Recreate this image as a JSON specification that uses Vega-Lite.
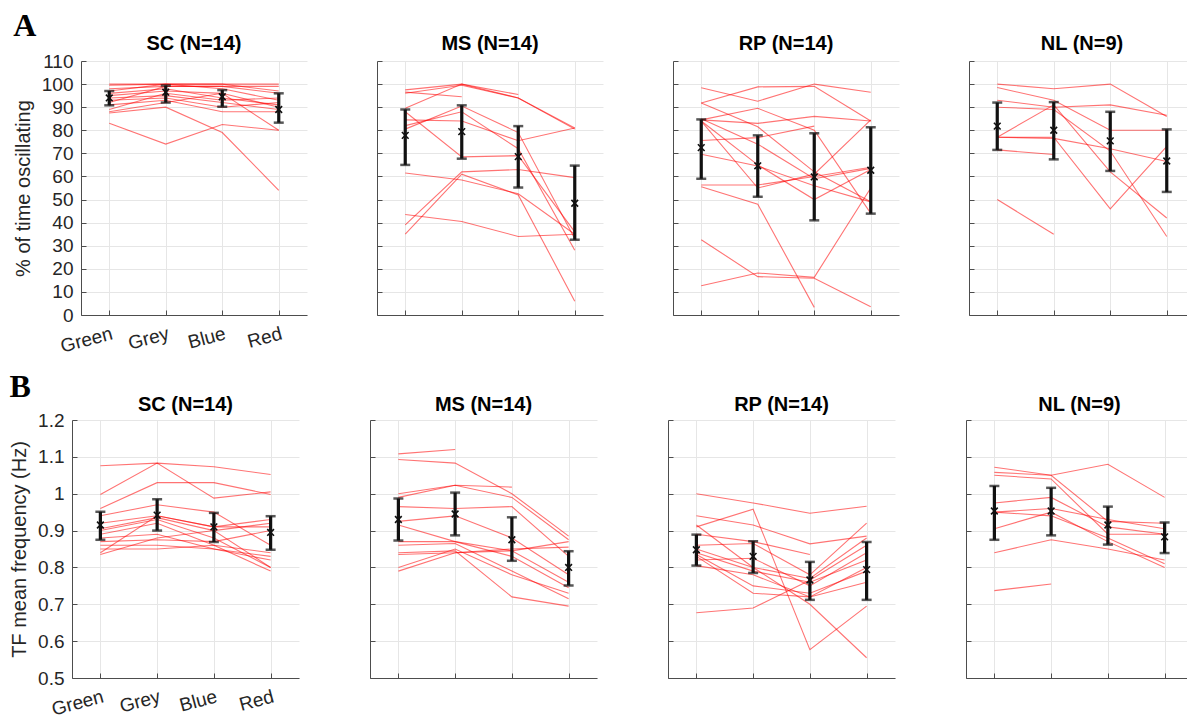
{
 "$schema": "https://vega.github.io/schema/vega-lite/v6.json",
 "background": "white",
 "padding": {"left": 9, "top": 9, "right": 0, "bottom": 0},
 "config": {
  "view": {"stroke": null},
  "font": "Liberation Sans",
  "title": {"fontSize": 20, "fontWeight": "bold", "font": "Liberation Sans", "color": "#000000", "offset": 7},
  "axis": {"gridColor": "#e6e6e6", "domainColor": "#4d4d4d", "tickColor": "#4d4d4d", "tickSize": -5, "labelColor": "#262626", "labelFont": "Liberation Sans", "labelFontSize": 19, "labelOverlap": false, "titleFont": "Liberation Sans", "titleFontSize": 20, "titleFontWeight": "normal", "titleColor": "#262626"},
  "axisY": {"labelPadding": 13, "titlePadding": 8},
  "axisX": {"labelPadding": 14}
 },
 "datasets": {
  "lines": [
   {"m":"A","g":"SC","s":1,"c":"Green","v":100},{"m":"A","g":"SC","s":1,"c":"Grey","v":100},{"m":"A","g":"SC","s":1,"c":"Blue","v":100},{"m":"A","g":"SC","s":1,"c":"Red","v":100},
   {"m":"A","g":"SC","s":2,"c":"Green","v":99.5},{"m":"A","g":"SC","s":2,"c":"Grey","v":100},{"m":"A","g":"SC","s":2,"c":"Blue","v":100},{"m":"A","g":"SC","s":2,"c":"Red","v":97},
   {"m":"A","g":"SC","s":3,"c":"Green","v":98},{"m":"A","g":"SC","s":3,"c":"Grey","v":99},{"m":"A","g":"SC","s":3,"c":"Blue","v":99},{"m":"A","g":"SC","s":3,"c":"Red","v":96},
   {"m":"A","g":"SC","s":4,"c":"Green","v":97},{"m":"A","g":"SC","s":4,"c":"Grey","v":100},{"m":"A","g":"SC","s":4,"c":"Blue","v":98},{"m":"A","g":"SC","s":4,"c":"Red","v":93},
   {"m":"A","g":"SC","s":5,"c":"Green","v":96},{"m":"A","g":"SC","s":5,"c":"Grey","v":98},{"m":"A","g":"SC","s":5,"c":"Blue","v":94},{"m":"A","g":"SC","s":5,"c":"Red","v":91},
   {"m":"A","g":"SC","s":6,"c":"Green","v":95},{"m":"A","g":"SC","s":6,"c":"Grey","v":97},{"m":"A","g":"SC","s":6,"c":"Blue","v":96},{"m":"A","g":"SC","s":6,"c":"Red","v":90},
   {"m":"A","g":"SC","s":7,"c":"Green","v":94},{"m":"A","g":"SC","s":7,"c":"Grey","v":95},{"m":"A","g":"SC","s":7,"c":"Blue","v":92},{"m":"A","g":"SC","s":7,"c":"Red","v":89},
   {"m":"A","g":"SC","s":8,"c":"Green","v":93},{"m":"A","g":"SC","s":8,"c":"Grey","v":94},{"m":"A","g":"SC","s":8,"c":"Blue","v":90},{"m":"A","g":"SC","s":8,"c":"Red","v":92},
   {"m":"A","g":"SC","s":9,"c":"Green","v":92},{"m":"A","g":"SC","s":9,"c":"Grey","v":99},{"m":"A","g":"SC","s":9,"c":"Blue","v":99},{"m":"A","g":"SC","s":9,"c":"Red","v":99},
   {"m":"A","g":"SC","s":10,"c":"Green","v":91},{"m":"A","g":"SC","s":10,"c":"Grey","v":93},{"m":"A","g":"SC","s":10,"c":"Blue","v":88},{"m":"A","g":"SC","s":10,"c":"Red","v":88},
   {"m":"A","g":"SC","s":11,"c":"Green","v":88},{"m":"A","g":"SC","s":11,"c":"Grey","v":92},{"m":"A","g":"SC","s":11,"c":"Blue","v":96},{"m":"A","g":"SC","s":11,"c":"Red","v":80},
   {"m":"A","g":"SC","s":12,"c":"Green","v":87.5},{"m":"A","g":"SC","s":12,"c":"Grey","v":90},{"m":"A","g":"SC","s":12,"c":"Blue","v":79},{"m":"A","g":"SC","s":12,"c":"Red","v":54},
   {"m":"A","g":"SC","s":13,"c":"Green","v":83},{"m":"A","g":"SC","s":13,"c":"Grey","v":74},{"m":"A","g":"SC","s":13,"c":"Blue","v":82.5},{"m":"A","g":"SC","s":13,"c":"Red","v":80},
   {"m":"A","g":"SC","s":14,"c":"Green","v":89},{"m":"A","g":"SC","s":14,"c":"Grey","v":96},{"m":"A","g":"SC","s":14,"c":"Blue","v":93},{"m":"A","g":"SC","s":14,"c":"Red","v":94},

   {"m":"A","g":"MS","s":1,"c":"Green","v":97.5},{"m":"A","g":"MS","s":1,"c":"Grey","v":100},{"m":"A","g":"MS","s":1,"c":"Blue","v":95.5},
   {"m":"A","g":"MS","s":2,"c":"Green","v":96.5},{"m":"A","g":"MS","s":2,"c":"Grey","v":94.5},
   {"m":"A","g":"MS","s":3,"c":"Green","v":89.5},{"m":"A","g":"MS","s":3,"c":"Grey","v":100},{"m":"A","g":"MS","s":3,"c":"Blue","v":94},{"m":"A","g":"MS","s":3,"c":"Red","v":81},
   {"m":"A","g":"MS","s":4,"c":"Green","v":88},{"m":"A","g":"MS","s":4,"c":"Grey","v":68.5},{"m":"A","g":"MS","s":4,"c":"Blue","v":69},{"m":"A","g":"MS","s":4,"c":"Red","v":36},
   {"m":"A","g":"MS","s":5,"c":"Green","v":84.5},{"m":"A","g":"MS","s":5,"c":"Grey","v":84},{"m":"A","g":"MS","s":5,"c":"Blue","v":75.5},{"m":"A","g":"MS","s":5,"c":"Red","v":81},
   {"m":"A","g":"MS","s":6,"c":"Green","v":80.5},{"m":"A","g":"MS","s":6,"c":"Grey","v":90.5},{"m":"A","g":"MS","s":6,"c":"Blue","v":79},{"m":"A","g":"MS","s":6,"c":"Red","v":33},
   {"m":"A","g":"MS","s":7,"c":"Green","v":82},{"m":"A","g":"MS","s":7,"c":"Grey","v":88},{"m":"A","g":"MS","s":7,"c":"Blue","v":72},{"m":"A","g":"MS","s":7,"c":"Red","v":28},
   {"m":"A","g":"MS","s":8,"c":"Green","v":61.5},{"m":"A","g":"MS","s":8,"c":"Grey","v":58.5},{"m":"A","g":"MS","s":8,"c":"Blue","v":52.5},{"m":"A","g":"MS","s":8,"c":"Red","v":35},
   {"m":"A","g":"MS","s":9,"c":"Green","v":39},{"m":"A","g":"MS","s":9,"c":"Grey","v":62},{"m":"A","g":"MS","s":9,"c":"Blue","v":63},{"m":"A","g":"MS","s":9,"c":"Red","v":59.5},
   {"m":"A","g":"MS","s":10,"c":"Green","v":35},{"m":"A","g":"MS","s":10,"c":"Grey","v":61},{"m":"A","g":"MS","s":10,"c":"Blue","v":52},{"m":"A","g":"MS","s":10,"c":"Red","v":6},
   {"m":"A","g":"MS","s":11,"c":"Green","v":43.5},{"m":"A","g":"MS","s":11,"c":"Grey","v":40.5},{"m":"A","g":"MS","s":11,"c":"Blue","v":34},{"m":"A","g":"MS","s":11,"c":"Red","v":35},
   {"m":"A","g":"MS","s":12,"c":"Green","v":96},{"m":"A","g":"MS","s":12,"c":"Grey","v":99.5},{"m":"A","g":"MS","s":12,"c":"Blue","v":94},{"m":"A","g":"MS","s":12,"c":"Red","v":80.5},

   {"m":"A","g":"RP","s":1,"c":"Green","v":98.4},{"m":"A","g":"RP","s":1,"c":"Grey","v":92.6},{"m":"A","g":"RP","s":1,"c":"Blue","v":100},{"m":"A","g":"RP","s":1,"c":"Red","v":96.5},
   {"m":"A","g":"RP","s":2,"c":"Green","v":91.8},{"m":"A","g":"RP","s":2,"c":"Grey","v":98.8},{"m":"A","g":"RP","s":2,"c":"Blue","v":99},{"m":"A","g":"RP","s":2,"c":"Red","v":84},
   {"m":"A","g":"RP","s":3,"c":"Green","v":91.8},{"m":"A","g":"RP","s":3,"c":"Grey","v":81.5},{"m":"A","g":"RP","s":3,"c":"Blue","v":62},{"m":"A","g":"RP","s":3,"c":"Red","v":49},
   {"m":"A","g":"RP","s":4,"c":"Green","v":84.5},{"m":"A","g":"RP","s":4,"c":"Grey","v":89.5},{"m":"A","g":"RP","s":4,"c":"Blue","v":80},{"m":"A","g":"RP","s":4,"c":"Red","v":44},
   {"m":"A","g":"RP","s":5,"c":"Green","v":84.5},{"m":"A","g":"RP","s":5,"c":"Grey","v":83},{"m":"A","g":"RP","s":5,"c":"Blue","v":86},{"m":"A","g":"RP","s":5,"c":"Red","v":84},
   {"m":"A","g":"RP","s":6,"c":"Green","v":75.6},{"m":"A","g":"RP","s":6,"c":"Grey","v":76.8},{"m":"A","g":"RP","s":6,"c":"Blue","v":81.8},
   {"m":"A","g":"RP","s":7,"c":"Green","v":55.5},{"m":"A","g":"RP","s":7,"c":"Grey","v":48},{"m":"A","g":"RP","s":7,"c":"Blue","v":3.3},
   {"m":"A","g":"RP","s":8,"c":"Green","v":69.6},{"m":"A","g":"RP","s":8,"c":"Grey","v":64.5},{"m":"A","g":"RP","s":8,"c":"Blue","v":56},{"m":"A","g":"RP","s":8,"c":"Red","v":49},
   {"m":"A","g":"RP","s":9,"c":"Green","v":56.3},{"m":"A","g":"RP","s":9,"c":"Grey","v":56.3},{"m":"A","g":"RP","s":9,"c":"Blue","v":60},{"m":"A","g":"RP","s":9,"c":"Red","v":64},
   {"m":"A","g":"RP","s":10,"c":"Green","v":32.6},{"m":"A","g":"RP","s":10,"c":"Grey","v":16.6},{"m":"A","g":"RP","s":10,"c":"Blue","v":15.9},{"m":"A","g":"RP","s":10,"c":"Red","v":3.6},
   {"m":"A","g":"RP","s":11,"c":"Green","v":12.7},{"m":"A","g":"RP","s":11,"c":"Grey","v":18.2},{"m":"A","g":"RP","s":11,"c":"Blue","v":16.3},{"m":"A","g":"RP","s":11,"c":"Red","v":55},
   {"m":"A","g":"RP","s":12,"c":"Green","v":84},{"m":"A","g":"RP","s":12,"c":"Grey","v":55},{"m":"A","g":"RP","s":12,"c":"Blue","v":61},{"m":"A","g":"RP","s":12,"c":"Red","v":84.5},
   {"m":"A","g":"RP","s":13,"c":"Green","v":84},{"m":"A","g":"RP","s":13,"c":"Grey","v":65},{"m":"A","g":"RP","s":13,"c":"Blue","v":50},{"m":"A","g":"RP","s":13,"c":"Red","v":63},
   {"m":"A","g":"RP","s":14,"c":"Green","v":85},{"m":"A","g":"RP","s":14,"c":"Grey","v":74},{"m":"A","g":"RP","s":14,"c":"Blue","v":59},{"m":"A","g":"RP","s":14,"c":"Red","v":63.5},

   {"m":"A","g":"NL","s":1,"c":"Green","v":100},{"m":"A","g":"NL","s":1,"c":"Grey","v":98},{"m":"A","g":"NL","s":1,"c":"Blue","v":100},{"m":"A","g":"NL","s":1,"c":"Red","v":86},
   {"m":"A","g":"NL","s":2,"c":"Green","v":98.5},{"m":"A","g":"NL","s":2,"c":"Grey","v":93},{"m":"A","g":"NL","s":2,"c":"Blue","v":80},{"m":"A","g":"NL","s":2,"c":"Red","v":80},
   {"m":"A","g":"NL","s":3,"c":"Green","v":93},{"m":"A","g":"NL","s":3,"c":"Grey","v":90},{"m":"A","g":"NL","s":3,"c":"Blue","v":91},{"m":"A","g":"NL","s":3,"c":"Red","v":86.5},
   {"m":"A","g":"NL","s":4,"c":"Green","v":90},{"m":"A","g":"NL","s":4,"c":"Grey","v":89},{"m":"A","g":"NL","s":4,"c":"Blue","v":71},{"m":"A","g":"NL","s":4,"c":"Red","v":34},
   {"m":"A","g":"NL","s":5,"c":"Green","v":77},{"m":"A","g":"NL","s":5,"c":"Grey","v":91},{"m":"A","g":"NL","s":5,"c":"Blue","v":62},{"m":"A","g":"NL","s":5,"c":"Red","v":42},
   {"m":"A","g":"NL","s":6,"c":"Green","v":77},{"m":"A","g":"NL","s":6,"c":"Grey","v":77},{"m":"A","g":"NL","s":6,"c":"Blue","v":46},{"m":"A","g":"NL","s":6,"c":"Red","v":73},
   {"m":"A","g":"NL","s":7,"c":"Green","v":77},{"m":"A","g":"NL","s":7,"c":"Grey","v":76.5},{"m":"A","g":"NL","s":7,"c":"Blue","v":72},{"m":"A","g":"NL","s":7,"c":"Red","v":66.5},
   {"m":"A","g":"NL","s":8,"c":"Green","v":71.5},{"m":"A","g":"NL","s":8,"c":"Grey","v":69.5},
   {"m":"A","g":"NL","s":9,"c":"Green","v":50},{"m":"A","g":"NL","s":9,"c":"Grey","v":35},

   {"m":"B","g":"SC","s":1,"c":"Green","v":1.076},{"m":"B","g":"SC","s":1,"c":"Grey","v":1.083},{"m":"B","g":"SC","s":1,"c":"Blue","v":1.073},{"m":"B","g":"SC","s":1,"c":"Red","v":1.052},
   {"m":"B","g":"SC","s":2,"c":"Green","v":0.998},{"m":"B","g":"SC","s":2,"c":"Grey","v":1.083},{"m":"B","g":"SC","s":2,"c":"Blue","v":0.988},{"m":"B","g":"SC","s":2,"c":"Red","v":1.005},
   {"m":"B","g":"SC","s":3,"c":"Green","v":0.96},{"m":"B","g":"SC","s":3,"c":"Grey","v":1.03},{"m":"B","g":"SC","s":3,"c":"Blue","v":1.03},{"m":"B","g":"SC","s":3,"c":"Red","v":0.998},
   {"m":"B","g":"SC","s":4,"c":"Green","v":0.94},{"m":"B","g":"SC","s":4,"c":"Grey","v":0.97},{"m":"B","g":"SC","s":4,"c":"Blue","v":0.95},{"m":"B","g":"SC","s":4,"c":"Red","v":0.86},
   {"m":"B","g":"SC","s":5,"c":"Green","v":0.92},{"m":"B","g":"SC","s":5,"c":"Grey","v":0.94},{"m":"B","g":"SC","s":5,"c":"Blue","v":0.91},{"m":"B","g":"SC","s":5,"c":"Red","v":0.93},
   {"m":"B","g":"SC","s":6,"c":"Green","v":0.905},{"m":"B","g":"SC","s":6,"c":"Grey","v":0.935},{"m":"B","g":"SC","s":6,"c":"Blue","v":0.9},{"m":"B","g":"SC","s":6,"c":"Red","v":0.92},
   {"m":"B","g":"SC","s":7,"c":"Green","v":0.9},{"m":"B","g":"SC","s":7,"c":"Grey","v":0.93},{"m":"B","g":"SC","s":7,"c":"Blue","v":0.88},{"m":"B","g":"SC","s":7,"c":"Red","v":0.8},
   {"m":"B","g":"SC","s":8,"c":"Green","v":0.89},{"m":"B","g":"SC","s":8,"c":"Grey","v":0.92},{"m":"B","g":"SC","s":8,"c":"Blue","v":0.86},{"m":"B","g":"SC","s":8,"c":"Red","v":0.79},
   {"m":"B","g":"SC","s":9,"c":"Green","v":0.88},{"m":"B","g":"SC","s":9,"c":"Grey","v":0.89},{"m":"B","g":"SC","s":9,"c":"Blue","v":0.85},{"m":"B","g":"SC","s":9,"c":"Red","v":0.82},
   {"m":"B","g":"SC","s":10,"c":"Green","v":0.87},{"m":"B","g":"SC","s":10,"c":"Grey","v":0.875},{"m":"B","g":"SC","s":10,"c":"Blue","v":0.87},{"m":"B","g":"SC","s":10,"c":"Red","v":0.9},
   {"m":"B","g":"SC","s":11,"c":"Green","v":0.86},{"m":"B","g":"SC","s":11,"c":"Grey","v":0.86},{"m":"B","g":"SC","s":11,"c":"Blue","v":0.85},{"m":"B","g":"SC","s":11,"c":"Red","v":0.83},
   {"m":"B","g":"SC","s":12,"c":"Green","v":0.85},{"m":"B","g":"SC","s":12,"c":"Grey","v":0.85},{"m":"B","g":"SC","s":12,"c":"Blue","v":0.86},{"m":"B","g":"SC","s":12,"c":"Red","v":0.84},
   {"m":"B","g":"SC","s":13,"c":"Green","v":0.84},{"m":"B","g":"SC","s":13,"c":"Grey","v":0.94},{"m":"B","g":"SC","s":13,"c":"Blue","v":0.91},{"m":"B","g":"SC","s":13,"c":"Red","v":0.91},
   {"m":"B","g":"SC","s":14,"c":"Green","v":0.835},{"m":"B","g":"SC","s":14,"c":"Grey","v":0.88},{"m":"B","g":"SC","s":14,"c":"Blue","v":0.9},{"m":"B","g":"SC","s":14,"c":"Red","v":0.8},

   {"m":"B","g":"MS","s":1,"c":"Green","v":1.108},{"m":"B","g":"MS","s":1,"c":"Grey","v":1.12},
   {"m":"B","g":"MS","s":2,"c":"Green","v":1.093},{"m":"B","g":"MS","s":2,"c":"Grey","v":1.083},{"m":"B","g":"MS","s":2,"c":"Blue","v":1.0},{"m":"B","g":"MS","s":2,"c":"Red","v":0.885},
   {"m":"B","g":"MS","s":3,"c":"Green","v":1.0},{"m":"B","g":"MS","s":3,"c":"Grey","v":1.023},{"m":"B","g":"MS","s":3,"c":"Blue","v":1.018},
   {"m":"B","g":"MS","s":4,"c":"Green","v":0.99},{"m":"B","g":"MS","s":4,"c":"Grey","v":1.023},{"m":"B","g":"MS","s":4,"c":"Blue","v":0.99},{"m":"B","g":"MS","s":4,"c":"Red","v":0.875},
   {"m":"B","g":"MS","s":5,"c":"Green","v":0.965},{"m":"B","g":"MS","s":5,"c":"Grey","v":0.96},{"m":"B","g":"MS","s":5,"c":"Blue","v":0.965},{"m":"B","g":"MS","s":5,"c":"Red","v":0.83},
   {"m":"B","g":"MS","s":6,"c":"Green","v":0.925},{"m":"B","g":"MS","s":6,"c":"Grey","v":0.94},{"m":"B","g":"MS","s":6,"c":"Blue","v":0.88},{"m":"B","g":"MS","s":6,"c":"Red","v":0.78},
   {"m":"B","g":"MS","s":7,"c":"Green","v":0.915},{"m":"B","g":"MS","s":7,"c":"Grey","v":0.87},{"m":"B","g":"MS","s":7,"c":"Blue","v":0.83},{"m":"B","g":"MS","s":7,"c":"Red","v":0.745},
   {"m":"B","g":"MS","s":8,"c":"Green","v":0.87},{"m":"B","g":"MS","s":8,"c":"Grey","v":0.87},{"m":"B","g":"MS","s":8,"c":"Blue","v":0.845},{"m":"B","g":"MS","s":8,"c":"Red","v":0.87},
   {"m":"B","g":"MS","s":9,"c":"Green","v":0.86},{"m":"B","g":"MS","s":9,"c":"Grey","v":0.865},{"m":"B","g":"MS","s":9,"c":"Blue","v":0.79},{"m":"B","g":"MS","s":9,"c":"Red","v":0.715},
   {"m":"B","g":"MS","s":10,"c":"Green","v":0.84},{"m":"B","g":"MS","s":10,"c":"Grey","v":0.845},{"m":"B","g":"MS","s":10,"c":"Blue","v":0.72},{"m":"B","g":"MS","s":10,"c":"Red","v":0.695},
   {"m":"B","g":"MS","s":11,"c":"Green","v":0.835},{"m":"B","g":"MS","s":11,"c":"Grey","v":0.84},{"m":"B","g":"MS","s":11,"c":"Blue","v":0.85},{"m":"B","g":"MS","s":11,"c":"Red","v":0.855},
   {"m":"B","g":"MS","s":12,"c":"Green","v":0.8},{"m":"B","g":"MS","s":12,"c":"Grey","v":0.85},{"m":"B","g":"MS","s":12,"c":"Blue","v":0.78},{"m":"B","g":"MS","s":12,"c":"Red","v":0.73},
   {"m":"B","g":"MS","s":13,"c":"Green","v":0.79},{"m":"B","g":"MS","s":13,"c":"Grey","v":0.84},{"m":"B","g":"MS","s":13,"c":"Blue","v":0.845},{"m":"B","g":"MS","s":13,"c":"Red","v":0.76},

   {"m":"B","g":"RP","s":1,"c":"Green","v":1.0},{"m":"B","g":"RP","s":1,"c":"Grey","v":0.975},{"m":"B","g":"RP","s":1,"c":"Blue","v":0.947},{"m":"B","g":"RP","s":1,"c":"Red","v":0.966},
   {"m":"B","g":"RP","s":2,"c":"Green","v":0.94},{"m":"B","g":"RP","s":2,"c":"Grey","v":0.915},{"m":"B","g":"RP","s":2,"c":"Blue","v":0.864},{"m":"B","g":"RP","s":2,"c":"Red","v":0.885},
   {"m":"B","g":"RP","s":3,"c":"Green","v":0.91},{"m":"B","g":"RP","s":3,"c":"Grey","v":0.958},{"m":"B","g":"RP","s":3,"c":"Blue","v":0.577},{"m":"B","g":"RP","s":3,"c":"Red","v":0.695},
   {"m":"B","g":"RP","s":4,"c":"Green","v":0.915},{"m":"B","g":"RP","s":4,"c":"Grey","v":0.8},{"m":"B","g":"RP","s":4,"c":"Blue","v":0.7},{"m":"B","g":"RP","s":4,"c":"Red","v":0.555},
   {"m":"B","g":"RP","s":5,"c":"Green","v":0.677},{"m":"B","g":"RP","s":5,"c":"Grey","v":0.69},{"m":"B","g":"RP","s":5,"c":"Blue","v":0.765},{"m":"B","g":"RP","s":5,"c":"Red","v":0.86},
   {"m":"B","g":"RP","s":6,"c":"Green","v":0.89},{"m":"B","g":"RP","s":6,"c":"Grey","v":0.87},{"m":"B","g":"RP","s":6,"c":"Blue","v":0.835},
   {"m":"B","g":"RP","s":7,"c":"Green","v":0.86},{"m":"B","g":"RP","s":7,"c":"Grey","v":0.865},{"m":"B","g":"RP","s":7,"c":"Blue","v":0.78},{"m":"B","g":"RP","s":7,"c":"Red","v":0.92},
   {"m":"B","g":"RP","s":8,"c":"Green","v":0.85},{"m":"B","g":"RP","s":8,"c":"Grey","v":0.8},{"m":"B","g":"RP","s":8,"c":"Blue","v":0.77},{"m":"B","g":"RP","s":8,"c":"Red","v":0.88},
   {"m":"B","g":"RP","s":9,"c":"Green","v":0.84},{"m":"B","g":"RP","s":9,"c":"Grey","v":0.79},{"m":"B","g":"RP","s":9,"c":"Blue","v":0.76},{"m":"B","g":"RP","s":9,"c":"Red","v":0.82},
   {"m":"B","g":"RP","s":10,"c":"Green","v":0.835},{"m":"B","g":"RP","s":10,"c":"Grey","v":0.75},{"m":"B","g":"RP","s":10,"c":"Blue","v":0.73},{"m":"B","g":"RP","s":10,"c":"Red","v":0.79},
   {"m":"B","g":"RP","s":11,"c":"Green","v":0.83},{"m":"B","g":"RP","s":11,"c":"Grey","v":0.73},{"m":"B","g":"RP","s":11,"c":"Blue","v":0.72},{"m":"B","g":"RP","s":11,"c":"Red","v":0.76},
   {"m":"B","g":"RP","s":12,"c":"Green","v":0.82},{"m":"B","g":"RP","s":12,"c":"Grey","v":0.825},{"m":"B","g":"RP","s":12,"c":"Blue","v":0.75},{"m":"B","g":"RP","s":12,"c":"Red","v":0.84},
   {"m":"B","g":"RP","s":13,"c":"Green","v":0.805},{"m":"B","g":"RP","s":13,"c":"Grey","v":0.78},{"m":"B","g":"RP","s":13,"c":"Blue","v":0.72},{"m":"B","g":"RP","s":13,"c":"Red","v":0.8},

   {"m":"B","g":"NL","s":1,"c":"Green","v":1.072},{"m":"B","g":"NL","s":1,"c":"Grey","v":1.05},{"m":"B","g":"NL","s":1,"c":"Blue","v":1.08},{"m":"B","g":"NL","s":1,"c":"Red","v":0.99},
   {"m":"B","g":"NL","s":2,"c":"Green","v":1.058},{"m":"B","g":"NL","s":2,"c":"Grey","v":1.05},{"m":"B","g":"NL","s":2,"c":"Blue","v":0.925},{"m":"B","g":"NL","s":2,"c":"Red","v":0.92},
   {"m":"B","g":"NL","s":3,"c":"Green","v":1.05},{"m":"B","g":"NL","s":3,"c":"Grey","v":1.04},{"m":"B","g":"NL","s":3,"c":"Blue","v":0.89},{"m":"B","g":"NL","s":3,"c":"Red","v":0.89},
   {"m":"B","g":"NL","s":4,"c":"Green","v":0.975},{"m":"B","g":"NL","s":4,"c":"Grey","v":0.99},{"m":"B","g":"NL","s":4,"c":"Blue","v":0.91},{"m":"B","g":"NL","s":4,"c":"Red","v":0.89},
   {"m":"B","g":"NL","s":5,"c":"Green","v":0.95},{"m":"B","g":"NL","s":5,"c":"Grey","v":0.96},{"m":"B","g":"NL","s":5,"c":"Blue","v":0.93},{"m":"B","g":"NL","s":5,"c":"Red","v":0.905},
   {"m":"B","g":"NL","s":6,"c":"Green","v":0.95},{"m":"B","g":"NL","s":6,"c":"Grey","v":0.94},{"m":"B","g":"NL","s":6,"c":"Blue","v":0.88},{"m":"B","g":"NL","s":6,"c":"Red","v":0.81},
   {"m":"B","g":"NL","s":7,"c":"Green","v":0.905},{"m":"B","g":"NL","s":7,"c":"Grey","v":0.95},{"m":"B","g":"NL","s":7,"c":"Blue","v":0.87},{"m":"B","g":"NL","s":7,"c":"Red","v":0.8},
   {"m":"B","g":"NL","s":8,"c":"Green","v":0.84},{"m":"B","g":"NL","s":8,"c":"Grey","v":0.875},{"m":"B","g":"NL","s":8,"c":"Blue","v":0.85},{"m":"B","g":"NL","s":8,"c":"Red","v":0.82},
   {"m":"B","g":"NL","s":9,"c":"Green","v":0.737},{"m":"B","g":"NL","s":9,"c":"Grey","v":0.755}
  ],
  "stats": [
   {"m":"A","g":"SC","c":"Green","mean":94,"lo":90.8,"hi":97},
   {"m":"A","g":"SC","c":"Grey","mean":96.5,"lo":92,"hi":99.4},
   {"m":"A","g":"SC","c":"Blue","mean":94.5,"lo":90.2,"hi":97.4},
   {"m":"A","g":"SC","c":"Red","mean":89,"lo":83.3,"hi":96},
   {"m":"A","g":"MS","c":"Green","mean":77.8,"lo":65,"hi":89},
   {"m":"A","g":"MS","c":"Grey","mean":79.4,"lo":67.7,"hi":90.8},
   {"m":"A","g":"MS","c":"Blue","mean":68.6,"lo":55.2,"hi":81.8},
   {"m":"A","g":"MS","c":"Red","mean":48.4,"lo":32.6,"hi":64.7},
   {"m":"A","g":"RP","c":"Green","mean":72.5,"lo":59,"hi":84.7},
   {"m":"A","g":"RP","c":"Grey","mean":64.6,"lo":51.2,"hi":77.8},
   {"m":"A","g":"RP","c":"Blue","mean":59.8,"lo":41,"hi":78.7},
   {"m":"A","g":"RP","c":"Red","mean":62.7,"lo":43.9,"hi":81.3},
   {"m":"A","g":"NL","c":"Green","mean":81.8,"lo":71.5,"hi":92},
   {"m":"A","g":"NL","c":"Grey","mean":80,"lo":67.4,"hi":92.2},
   {"m":"A","g":"NL","c":"Blue","mean":75.4,"lo":62.4,"hi":88},
   {"m":"A","g":"NL","c":"Red","mean":66.7,"lo":53.3,"hi":80.4},
   {"m":"B","g":"SC","c":"Green","mean":0.915,"lo":0.875,"hi":0.951},
   {"m":"B","g":"SC","c":"Grey","mean":0.942,"lo":0.9,"hi":0.985},
   {"m":"B","g":"SC","c":"Blue","mean":0.91,"lo":0.869,"hi":0.948},
   {"m":"B","g":"SC","c":"Red","mean":0.895,"lo":0.848,"hi":0.939},
   {"m":"B","g":"MS","c":"Green","mean":0.93,"lo":0.873,"hi":0.987},
   {"m":"B","g":"MS","c":"Grey","mean":0.945,"lo":0.887,"hi":1.003},
   {"m":"B","g":"MS","c":"Blue","mean":0.875,"lo":0.818,"hi":0.936},
   {"m":"B","g":"MS","c":"Red","mean":0.8,"lo":0.751,"hi":0.844},
   {"m":"B","g":"RP","c":"Green","mean":0.848,"lo":0.805,"hi":0.889},
   {"m":"B","g":"RP","c":"Grey","mean":0.83,"lo":0.785,"hi":0.871},
   {"m":"B","g":"RP","c":"Blue","mean":0.766,"lo":0.712,"hi":0.815},
   {"m":"B","g":"RP","c":"Red","mean":0.794,"lo":0.712,"hi":0.869},
   {"m":"B","g":"NL","c":"Green","mean":0.953,"lo":0.875,"hi":1.021},
   {"m":"B","g":"NL","c":"Grey","mean":0.953,"lo":0.887,"hi":1.016},
   {"m":"B","g":"NL","c":"Blue","mean":0.915,"lo":0.862,"hi":0.965},
   {"m":"B","g":"NL","c":"Red","mean":0.883,"lo":0.839,"hi":0.922}
  ]
 },
 "spacing": 13,
 "vconcat": [
  {
   "title": {"text": "A", "anchor": "start", "frame": "bounds", "font": "Liberation Serif", "fontSize": 32, "fontWeight": "bold", "color": "#000000", "offset": -9},
   "spacing": 8,
   "bounds": "flush",
   "hconcat": [
    {"width": 1, "height": 254, "data": {"values": []}, "mark": "point"},
    {
   "spacing": 70,
   "bounds": "flush",
   "hconcat": [
    {"width": 226, "height": 254, "title": {"text": "SC (N=14)", "offset": -2},
     "layer": [
      {"data": {"name": "lines"}, "transform": [{"filter": "datum.m==='A' && datum.g==='SC'"}], "mark": {"type": "line", "color": "#ff0000", "strokeWidth": 1.1, "opacity": 0.55},
       "encoding": {"x": {"field": "c", "type": "nominal", "scale": {"type": "point", "padding": 0.5, "domain": ["Green","Grey","Blue","Red"]}, "axis": {"title": null, "labelAngle": -15, "labelAlign": "right", "labelBaseline": "top", "grid": true}},
        "y": {"field": "v", "type": "quantitative", "scale": {"domain": [0, 110], "nice": false}, "axis": {"title": "% of time oscillating", "values": [0,10,20,30,40,50,60,70,80,90,100,110], "grid": true}}, "detail": {"field": "s", "type": "nominal"}}},
      {"data": {"name": "stats"}, "transform": [{"filter": "datum.m==='A' && datum.g==='SC'"}], "mark": {"type": "rule", "color": "#111111", "strokeWidth": 3.2},
       "encoding": {"x": {"field": "c", "type": "nominal"}, "y": {"field": "lo", "type": "quantitative", "axis": {"title": "% of time oscillating", "values": [0,10,20,30,40,50,60,70,80,90,100,110], "grid": true}}, "y2": {"field": "hi"}}},
      {"data": {"name": "stats"}, "transform": [{"filter": "datum.m==='A' && datum.g==='SC'"}], "mark": {"type": "tick", "color": "#111111", "thickness": 2.5, "size": 10},
       "encoding": {"x": {"field": "c", "type": "nominal"}, "y": {"field": "lo", "type": "quantitative", "axis": {"title": "% of time oscillating", "values": [0,10,20,30,40,50,60,70,80,90,100,110], "grid": true}}}},
      {"data": {"name": "stats"}, "transform": [{"filter": "datum.m==='A' && datum.g==='SC'"}], "mark": {"type": "tick", "color": "#111111", "thickness": 2.5, "size": 10},
       "encoding": {"x": {"field": "c", "type": "nominal"}, "y": {"field": "hi", "type": "quantitative", "axis": {"title": "% of time oscillating", "values": [0,10,20,30,40,50,60,70,80,90,100,110], "grid": true}}}},
      {"data": {"name": "stats"}, "transform": [{"filter": "datum.m==='A' && datum.g==='SC'"}], "mark": {"type": "point", "shape": "M-1,-1L1,1M-1,1L1,-1", "size": 45, "filled": false, "stroke": "#111111", "strokeWidth": 1.6, "opacity": 1},
       "encoding": {"x": {"field": "c", "type": "nominal"}, "y": {"field": "mean", "type": "quantitative", "axis": {"title": "% of time oscillating", "values": [0,10,20,30,40,50,60,70,80,90,100,110], "grid": true}}}}
     ]},
    {"width": 226, "height": 254, "title": "MS (N=14)",
     "layer": [
      {"data": {"name": "lines"}, "transform": [{"filter": "datum.m==='A' && datum.g==='MS'"}], "mark": {"type": "line", "color": "#ff0000", "strokeWidth": 1.1, "opacity": 0.55},
       "encoding": {"x": {"field": "c", "type": "nominal", "scale": {"type": "point", "padding": 0.5, "domain": ["Green","Grey","Blue","Red"]}, "axis": {"title": null, "labels": false, "grid": true}},
        "y": {"field": "v", "type": "quantitative", "scale": {"domain": [0, 110], "nice": false}, "axis": {"title": null, "labels": false, "values": [0,10,20,30,40,50,60,70,80,90,100,110], "grid": true}}, "detail": {"field": "s", "type": "nominal"}}},
      {"data": {"name": "stats"}, "transform": [{"filter": "datum.m==='A' && datum.g==='MS'"}], "mark": {"type": "rule", "color": "#111111", "strokeWidth": 3.2},
       "encoding": {"x": {"field": "c", "type": "nominal"}, "y": {"field": "lo", "type": "quantitative", "axis": {"title": null, "labels": false, "values": [0,10,20,30,40,50,60,70,80,90,100,110], "grid": true}}, "y2": {"field": "hi"}}},
      {"data": {"name": "stats"}, "transform": [{"filter": "datum.m==='A' && datum.g==='MS'"}], "mark": {"type": "tick", "color": "#111111", "thickness": 2.5, "size": 10},
       "encoding": {"x": {"field": "c", "type": "nominal"}, "y": {"field": "lo", "type": "quantitative", "axis": {"title": null, "labels": false, "values": [0,10,20,30,40,50,60,70,80,90,100,110], "grid": true}}}},
      {"data": {"name": "stats"}, "transform": [{"filter": "datum.m==='A' && datum.g==='MS'"}], "mark": {"type": "tick", "color": "#111111", "thickness": 2.5, "size": 10},
       "encoding": {"x": {"field": "c", "type": "nominal"}, "y": {"field": "hi", "type": "quantitative", "axis": {"title": null, "labels": false, "values": [0,10,20,30,40,50,60,70,80,90,100,110], "grid": true}}}},
      {"data": {"name": "stats"}, "transform": [{"filter": "datum.m==='A' && datum.g==='MS'"}], "mark": {"type": "point", "shape": "M-1,-1L1,1M-1,1L1,-1", "size": 45, "filled": false, "stroke": "#111111", "strokeWidth": 1.6, "opacity": 1},
       "encoding": {"x": {"field": "c", "type": "nominal"}, "y": {"field": "mean", "type": "quantitative", "axis": {"title": null, "labels": false, "values": [0,10,20,30,40,50,60,70,80,90,100,110], "grid": true}}}}
     ]},
    {"width": 226, "height": 254, "title": "RP (N=14)",
     "layer": [
      {"data": {"name": "lines"}, "transform": [{"filter": "datum.m==='A' && datum.g==='RP'"}], "mark": {"type": "line", "color": "#ff0000", "strokeWidth": 1.1, "opacity": 0.55},
       "encoding": {"x": {"field": "c", "type": "nominal", "scale": {"type": "point", "padding": 0.5, "domain": ["Green","Grey","Blue","Red"]}, "axis": {"title": null, "labels": false, "grid": true}},
        "y": {"field": "v", "type": "quantitative", "scale": {"domain": [0, 110], "nice": false}, "axis": {"title": null, "labels": false, "values": [0,10,20,30,40,50,60,70,80,90,100,110], "grid": true}}, "detail": {"field": "s", "type": "nominal"}}},
      {"data": {"name": "stats"}, "transform": [{"filter": "datum.m==='A' && datum.g==='RP'"}], "mark": {"type": "rule", "color": "#111111", "strokeWidth": 3.2},
       "encoding": {"x": {"field": "c", "type": "nominal"}, "y": {"field": "lo", "type": "quantitative", "axis": {"title": null, "labels": false, "values": [0,10,20,30,40,50,60,70,80,90,100,110], "grid": true}}, "y2": {"field": "hi"}}},
      {"data": {"name": "stats"}, "transform": [{"filter": "datum.m==='A' && datum.g==='RP'"}], "mark": {"type": "tick", "color": "#111111", "thickness": 2.5, "size": 10},
       "encoding": {"x": {"field": "c", "type": "nominal"}, "y": {"field": "lo", "type": "quantitative", "axis": {"title": null, "labels": false, "values": [0,10,20,30,40,50,60,70,80,90,100,110], "grid": true}}}},
      {"data": {"name": "stats"}, "transform": [{"filter": "datum.m==='A' && datum.g==='RP'"}], "mark": {"type": "tick", "color": "#111111", "thickness": 2.5, "size": 10},
       "encoding": {"x": {"field": "c", "type": "nominal"}, "y": {"field": "hi", "type": "quantitative", "axis": {"title": null, "labels": false, "values": [0,10,20,30,40,50,60,70,80,90,100,110], "grid": true}}}},
      {"data": {"name": "stats"}, "transform": [{"filter": "datum.m==='A' && datum.g==='RP'"}], "mark": {"type": "point", "shape": "M-1,-1L1,1M-1,1L1,-1", "size": 45, "filled": false, "stroke": "#111111", "strokeWidth": 1.6, "opacity": 1},
       "encoding": {"x": {"field": "c", "type": "nominal"}, "y": {"field": "mean", "type": "quantitative", "axis": {"title": null, "labels": false, "values": [0,10,20,30,40,50,60,70,80,90,100,110], "grid": true}}}}
     ]},
    {"width": 226, "height": 254, "title": "NL (N=9)",
     "layer": [
      {"data": {"name": "lines"}, "transform": [{"filter": "datum.m==='A' && datum.g==='NL'"}], "mark": {"type": "line", "color": "#ff0000", "strokeWidth": 1.1, "opacity": 0.55},
       "encoding": {"x": {"field": "c", "type": "nominal", "scale": {"type": "point", "padding": 0.5, "domain": ["Green","Grey","Blue","Red"]}, "axis": {"title": null, "labels": false, "grid": true}},
        "y": {"field": "v", "type": "quantitative", "scale": {"domain": [0, 110], "nice": false}, "axis": {"title": null, "labels": false, "values": [0,10,20,30,40,50,60,70,80,90,100,110], "grid": true}}, "detail": {"field": "s", "type": "nominal"}}},
      {"data": {"name": "stats"}, "transform": [{"filter": "datum.m==='A' && datum.g==='NL'"}], "mark": {"type": "rule", "color": "#111111", "strokeWidth": 3.2},
       "encoding": {"x": {"field": "c", "type": "nominal"}, "y": {"field": "lo", "type": "quantitative", "axis": {"title": null, "labels": false, "values": [0,10,20,30,40,50,60,70,80,90,100,110], "grid": true}}, "y2": {"field": "hi"}}},
      {"data": {"name": "stats"}, "transform": [{"filter": "datum.m==='A' && datum.g==='NL'"}], "mark": {"type": "tick", "color": "#111111", "thickness": 2.5, "size": 10},
       "encoding": {"x": {"field": "c", "type": "nominal"}, "y": {"field": "lo", "type": "quantitative", "axis": {"title": null, "labels": false, "values": [0,10,20,30,40,50,60,70,80,90,100,110], "grid": true}}}},
      {"data": {"name": "stats"}, "transform": [{"filter": "datum.m==='A' && datum.g==='NL'"}], "mark": {"type": "tick", "color": "#111111", "thickness": 2.5, "size": 10},
       "encoding": {"x": {"field": "c", "type": "nominal"}, "y": {"field": "hi", "type": "quantitative", "axis": {"title": null, "labels": false, "values": [0,10,20,30,40,50,60,70,80,90,100,110], "grid": true}}}},
      {"data": {"name": "stats"}, "transform": [{"filter": "datum.m==='A' && datum.g==='NL'"}], "mark": {"type": "point", "shape": "M-1,-1L1,1M-1,1L1,-1", "size": 45, "filled": false, "stroke": "#111111", "strokeWidth": 1.6, "opacity": 1},
       "encoding": {"x": {"field": "c", "type": "nominal"}, "y": {"field": "mean", "type": "quantitative", "axis": {"title": null, "labels": false, "values": [0,10,20,30,40,50,60,70,80,90,100,110], "grid": true}}}}
     ]}
   ]
    }
   ]
  },
  {
   "title": {"text": "B", "anchor": "start", "frame": "bounds", "font": "Liberation Serif", "fontSize": 32, "fontWeight": "bold", "color": "#000000", "offset": -9},
   "spacing": 71,
   "bounds": "flush",
   "hconcat": [
    {"width": 227, "height": 258, "title": {"text": "SC (N=14)", "offset": -4},
     "layer": [
      {"data": {"name": "lines"}, "transform": [{"filter": "datum.m==='B' && datum.g==='SC'"}], "mark": {"type": "line", "color": "#ff0000", "strokeWidth": 1.1, "opacity": 0.55},
       "encoding": {"x": {"field": "c", "type": "nominal", "scale": {"type": "point", "padding": 0.5, "domain": ["Green","Grey","Blue","Red"]}, "axis": {"title": null, "labelAngle": -15, "labelAlign": "right", "labelBaseline": "top", "grid": true}},
        "y": {"field": "v", "type": "quantitative", "scale": {"domain": [0.5, 1.2], "nice": false}, "axis": {"title": "TF mean frequency (Hz)", "format": "~g", "values": [0.5,0.6,0.7,0.8,0.9,1,1.1,1.2], "grid": true}}, "detail": {"field": "s", "type": "nominal"}}},
      {"data": {"name": "stats"}, "transform": [{"filter": "datum.m==='B' && datum.g==='SC'"}], "mark": {"type": "rule", "color": "#111111", "strokeWidth": 3.2},
       "encoding": {"x": {"field": "c", "type": "nominal"}, "y": {"field": "lo", "type": "quantitative", "axis": {"title": "TF mean frequency (Hz)", "format": "~g", "values": [0.5,0.6,0.7,0.8,0.9,1,1.1,1.2], "grid": true}}, "y2": {"field": "hi"}}},
      {"data": {"name": "stats"}, "transform": [{"filter": "datum.m==='B' && datum.g==='SC'"}], "mark": {"type": "tick", "color": "#111111", "thickness": 2.5, "size": 10},
       "encoding": {"x": {"field": "c", "type": "nominal"}, "y": {"field": "lo", "type": "quantitative", "axis": {"title": "TF mean frequency (Hz)", "format": "~g", "values": [0.5,0.6,0.7,0.8,0.9,1,1.1,1.2], "grid": true}}}},
      {"data": {"name": "stats"}, "transform": [{"filter": "datum.m==='B' && datum.g==='SC'"}], "mark": {"type": "tick", "color": "#111111", "thickness": 2.5, "size": 10},
       "encoding": {"x": {"field": "c", "type": "nominal"}, "y": {"field": "hi", "type": "quantitative", "axis": {"title": "TF mean frequency (Hz)", "format": "~g", "values": [0.5,0.6,0.7,0.8,0.9,1,1.1,1.2], "grid": true}}}},
      {"data": {"name": "stats"}, "transform": [{"filter": "datum.m==='B' && datum.g==='SC'"}], "mark": {"type": "point", "shape": "M-1,-1L1,1M-1,1L1,-1", "size": 45, "filled": false, "stroke": "#111111", "strokeWidth": 1.6, "opacity": 1},
       "encoding": {"x": {"field": "c", "type": "nominal"}, "y": {"field": "mean", "type": "quantitative", "axis": {"title": "TF mean frequency (Hz)", "format": "~g", "values": [0.5,0.6,0.7,0.8,0.9,1,1.1,1.2], "grid": true}}}}
     ]},
    {"width": 227, "height": 258, "title": {"text": "MS (N=14)", "offset": 5},
     "layer": [
      {"data": {"name": "lines"}, "transform": [{"filter": "datum.m==='B' && datum.g==='MS'"}], "mark": {"type": "line", "color": "#ff0000", "strokeWidth": 1.1, "opacity": 0.55},
       "encoding": {"x": {"field": "c", "type": "nominal", "scale": {"type": "point", "padding": 0.5, "domain": ["Green","Grey","Blue","Red"]}, "axis": {"title": null, "labels": false, "grid": true}},
        "y": {"field": "v", "type": "quantitative", "scale": {"domain": [0.5, 1.2], "nice": false}, "axis": {"title": null, "labels": false, "values": [0.5,0.6,0.7,0.8,0.9,1,1.1,1.2], "grid": true}}, "detail": {"field": "s", "type": "nominal"}}},
      {"data": {"name": "stats"}, "transform": [{"filter": "datum.m==='B' && datum.g==='MS'"}], "mark": {"type": "rule", "color": "#111111", "strokeWidth": 3.2},
       "encoding": {"x": {"field": "c", "type": "nominal"}, "y": {"field": "lo", "type": "quantitative", "axis": {"title": null, "labels": false, "values": [0.5,0.6,0.7,0.8,0.9,1,1.1,1.2], "grid": true}}, "y2": {"field": "hi"}}},
      {"data": {"name": "stats"}, "transform": [{"filter": "datum.m==='B' && datum.g==='MS'"}], "mark": {"type": "tick", "color": "#111111", "thickness": 2.5, "size": 10},
       "encoding": {"x": {"field": "c", "type": "nominal"}, "y": {"field": "lo", "type": "quantitative", "axis": {"title": null, "labels": false, "values": [0.5,0.6,0.7,0.8,0.9,1,1.1,1.2], "grid": true}}}},
      {"data": {"name": "stats"}, "transform": [{"filter": "datum.m==='B' && datum.g==='MS'"}], "mark": {"type": "tick", "color": "#111111", "thickness": 2.5, "size": 10},
       "encoding": {"x": {"field": "c", "type": "nominal"}, "y": {"field": "hi", "type": "quantitative", "axis": {"title": null, "labels": false, "values": [0.5,0.6,0.7,0.8,0.9,1,1.1,1.2], "grid": true}}}},
      {"data": {"name": "stats"}, "transform": [{"filter": "datum.m==='B' && datum.g==='MS'"}], "mark": {"type": "point", "shape": "M-1,-1L1,1M-1,1L1,-1", "size": 45, "filled": false, "stroke": "#111111", "strokeWidth": 1.6, "opacity": 1},
       "encoding": {"x": {"field": "c", "type": "nominal"}, "y": {"field": "mean", "type": "quantitative", "axis": {"title": null, "labels": false, "values": [0.5,0.6,0.7,0.8,0.9,1,1.1,1.2], "grid": true}}}}
     ]},
    {"width": 227, "height": 258, "title": {"text": "RP (N=14)", "offset": 5},
     "layer": [
      {"data": {"name": "lines"}, "transform": [{"filter": "datum.m==='B' && datum.g==='RP'"}], "mark": {"type": "line", "color": "#ff0000", "strokeWidth": 1.1, "opacity": 0.55},
       "encoding": {"x": {"field": "c", "type": "nominal", "scale": {"type": "point", "padding": 0.5, "domain": ["Green","Grey","Blue","Red"]}, "axis": {"title": null, "labels": false, "grid": true}},
        "y": {"field": "v", "type": "quantitative", "scale": {"domain": [0.5, 1.2], "nice": false}, "axis": {"title": null, "labels": false, "values": [0.5,0.6,0.7,0.8,0.9,1,1.1,1.2], "grid": true}}, "detail": {"field": "s", "type": "nominal"}}},
      {"data": {"name": "stats"}, "transform": [{"filter": "datum.m==='B' && datum.g==='RP'"}], "mark": {"type": "rule", "color": "#111111", "strokeWidth": 3.2},
       "encoding": {"x": {"field": "c", "type": "nominal"}, "y": {"field": "lo", "type": "quantitative", "axis": {"title": null, "labels": false, "values": [0.5,0.6,0.7,0.8,0.9,1,1.1,1.2], "grid": true}}, "y2": {"field": "hi"}}},
      {"data": {"name": "stats"}, "transform": [{"filter": "datum.m==='B' && datum.g==='RP'"}], "mark": {"type": "tick", "color": "#111111", "thickness": 2.5, "size": 10},
       "encoding": {"x": {"field": "c", "type": "nominal"}, "y": {"field": "lo", "type": "quantitative", "axis": {"title": null, "labels": false, "values": [0.5,0.6,0.7,0.8,0.9,1,1.1,1.2], "grid": true}}}},
      {"data": {"name": "stats"}, "transform": [{"filter": "datum.m==='B' && datum.g==='RP'"}], "mark": {"type": "tick", "color": "#111111", "thickness": 2.5, "size": 10},
       "encoding": {"x": {"field": "c", "type": "nominal"}, "y": {"field": "hi", "type": "quantitative", "axis": {"title": null, "labels": false, "values": [0.5,0.6,0.7,0.8,0.9,1,1.1,1.2], "grid": true}}}},
      {"data": {"name": "stats"}, "transform": [{"filter": "datum.m==='B' && datum.g==='RP'"}], "mark": {"type": "point", "shape": "M-1,-1L1,1M-1,1L1,-1", "size": 45, "filled": false, "stroke": "#111111", "strokeWidth": 1.6, "opacity": 1},
       "encoding": {"x": {"field": "c", "type": "nominal"}, "y": {"field": "mean", "type": "quantitative", "axis": {"title": null, "labels": false, "values": [0.5,0.6,0.7,0.8,0.9,1,1.1,1.2], "grid": true}}}}
     ]},
    {"width": 227, "height": 258, "title": {"text": "NL (N=9)", "offset": 5},
     "layer": [
      {"data": {"name": "lines"}, "transform": [{"filter": "datum.m==='B' && datum.g==='NL'"}], "mark": {"type": "line", "color": "#ff0000", "strokeWidth": 1.1, "opacity": 0.55},
       "encoding": {"x": {"field": "c", "type": "nominal", "scale": {"type": "point", "padding": 0.5, "domain": ["Green","Grey","Blue","Red"]}, "axis": {"title": null, "labels": false, "grid": true}},
        "y": {"field": "v", "type": "quantitative", "scale": {"domain": [0.5, 1.2], "nice": false}, "axis": {"title": null, "labels": false, "values": [0.5,0.6,0.7,0.8,0.9,1,1.1,1.2], "grid": true}}, "detail": {"field": "s", "type": "nominal"}}},
      {"data": {"name": "stats"}, "transform": [{"filter": "datum.m==='B' && datum.g==='NL'"}], "mark": {"type": "rule", "color": "#111111", "strokeWidth": 3.2},
       "encoding": {"x": {"field": "c", "type": "nominal"}, "y": {"field": "lo", "type": "quantitative", "axis": {"title": null, "labels": false, "values": [0.5,0.6,0.7,0.8,0.9,1,1.1,1.2], "grid": true}}, "y2": {"field": "hi"}}},
      {"data": {"name": "stats"}, "transform": [{"filter": "datum.m==='B' && datum.g==='NL'"}], "mark": {"type": "tick", "color": "#111111", "thickness": 2.5, "size": 10},
       "encoding": {"x": {"field": "c", "type": "nominal"}, "y": {"field": "lo", "type": "quantitative", "axis": {"title": null, "labels": false, "values": [0.5,0.6,0.7,0.8,0.9,1,1.1,1.2], "grid": true}}}},
      {"data": {"name": "stats"}, "transform": [{"filter": "datum.m==='B' && datum.g==='NL'"}], "mark": {"type": "tick", "color": "#111111", "thickness": 2.5, "size": 10},
       "encoding": {"x": {"field": "c", "type": "nominal"}, "y": {"field": "hi", "type": "quantitative", "axis": {"title": null, "labels": false, "values": [0.5,0.6,0.7,0.8,0.9,1,1.1,1.2], "grid": true}}}},
      {"data": {"name": "stats"}, "transform": [{"filter": "datum.m==='B' && datum.g==='NL'"}], "mark": {"type": "point", "shape": "M-1,-1L1,1M-1,1L1,-1", "size": 45, "filled": false, "stroke": "#111111", "strokeWidth": 1.6, "opacity": 1},
       "encoding": {"x": {"field": "c", "type": "nominal"}, "y": {"field": "mean", "type": "quantitative", "axis": {"title": null, "labels": false, "values": [0.5,0.6,0.7,0.8,0.9,1,1.1,1.2], "grid": true}}}}
     ]}
   ]
  }
 ]
}
